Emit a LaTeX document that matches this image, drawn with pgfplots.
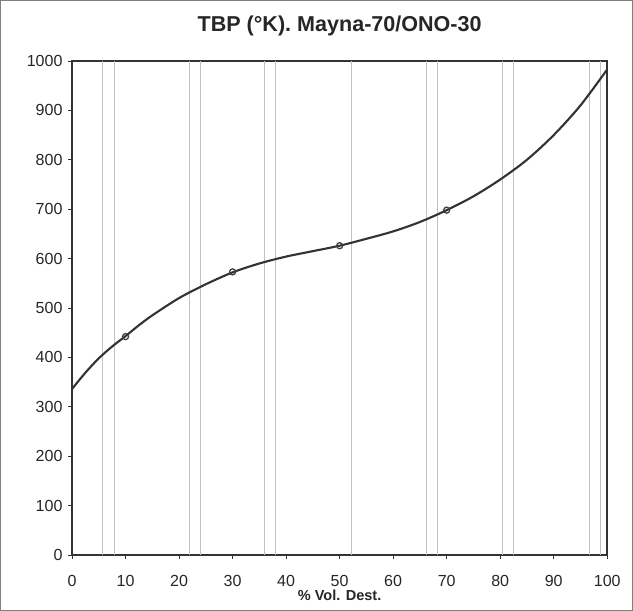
\documentclass[border=0pt]{standalone}
\usepackage{fontspec}
\setmainfont{Liberation Sans}
\usepackage{pgfplots}
\pgfplotsset{compat=1.18}
\begin{document}
\begin{tikzpicture}
\begin{axis}[
  scale only axis, width=532bp, height=491bp,
  xmin=0, xmax=100, ymin=0, ymax=1000,
  xtick={0,10,...,100}, ytick={0,100,...,1000},
  xtick pos=bottom, ytick pos=left,
  tick align=outside, major tick length=4bp,
  axis line style={black!80, line width=1.6bp},
  tick style={black!80, line width=0.8bp},
  /pgf/number format/assume math mode=true,
  /pgf/number format/1000 sep={},
  ticklabel style={font=\fontsize{16}{18}\selectfont, text=black!85},
  xticklabel style={anchor=base, yshift=-27bp},
  yticklabel style={anchor=east, xshift=-2bp},
  title={TBP (°K). Mayna-70/ONO-30},
  title style={font=\fontsize{21.5}{24}\selectfont\bfseries, text=black!85,
    at={(axis description cs:0.5,1)}, anchor=center, yshift=29bp},
  xlabel={\% Vol. Dest.},
  xlabel style={font=\fontsize{14.5}{16}\selectfont\bfseries, text=black!85,
    at={(axis description cs:0.5,0)}, anchor=center, yshift=-40bp},
  extra x ticks={5.6,7.9,22,23.9,35.9,38,52.1,66.2,68.2,80.3,82.5,96.6,98.7},
  extra x tick labels={},
  extra x tick style={grid=major, major grid style={black!24, line width=0.6bp}, major tick length=0pt},
]
\addplot[smooth, black!80, line width=2.1bp] coordinates {
(0,336) (2.5,369) (5,398) (7.5,422) (10,443) (12.5,465) (15,485) (20,520) (25,548) (30,572) (35,590)
(40,604) (45,615) (50,626) (55,640) (60,655) (65,674) (70,698) (75,726)
(80,760) (85,800) (90,850) (95,910) (100,983)};
\addplot[only marks, mark=o, mark size=3bp, black!75, mark options={line width=1.3bp}]
  coordinates {(10,442) (30,573) (50,626) (70,698)};
\end{axis}
\draw[black!50, line width=1.2bp] (-71bp,-55bp) rectangle (557bp,551bp);
\end{tikzpicture}
\end{document}
